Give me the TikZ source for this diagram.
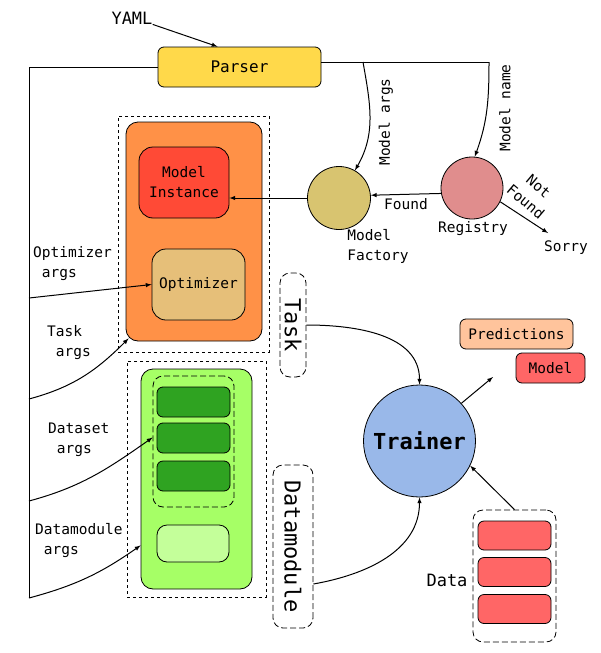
\documentclass[tikz,border=0pt]{standalone}
\usepackage{fontspec}
\setmonofont{DejaVu Sans Mono}
\usetikzlibrary{calc}
\definecolor{parseryellow}{HTML}{FFD94A}
\definecolor{orangebg}{HTML}{FF9147}
\definecolor{instancered}{HTML}{FF4A36}
\definecolor{optimtan}{HTML}{E6BF79}
\definecolor{factorygold}{HTML}{D8C470}
\definecolor{registrypink}{HTML}{E08D8D}
\definecolor{trainerblue}{HTML}{99B8E9}
\definecolor{predpeach}{HTML}{FFC49C}
\definecolor{modelred}{HTML}{FF6666}
\definecolor{greenbg}{HTML}{A6FF66}
\definecolor{darkgreen}{HTML}{2FA321}
\definecolor{lightgreen}{HTML}{C4FF9A}
\tikzstyle{roundbox}=[draw, rounded corners=6, line width=0.8, inner sep=0]
\tikzstyle{dashbox}=[draw, dashed, line width=0.8, inner sep=0]
\tikzstyle{longdashbox}=[draw, dash pattern=on 6pt off 3pt, rounded corners=10, line width=0.8, inner sep=0]
\tikzstyle{plainline}=[line width=1]
\tikzstyle{arrowline}=[-latex, line width=1]
\tikzstyle{txt}=[font=\ttfamily\fontsize{14.5}{20}\selectfont, inner sep=0]
\tikzstyle{argstxt}=[txt, align=left, anchor=west]
\tikzstyle{bigtxt}=[font=\ttfamily\fontsize{22}{24}\selectfont]
\tikzstyle{greenbar}=[roundbox, fill=darkgreen, minimum width=73, minimum height=30]
\tikzstyle{redbar}=[roundbox, fill=modelred, minimum width=73, minimum height=29]
\begin{document}
\begin{tikzpicture}[x=1pt, y=1pt]
  \useasboundingbox (0,0) rectangle (600,-653);
  % parser
  \node[roundbox, fill=parseryellow, minimum width=163, minimum height=40, font=\ttfamily\fontsize{16}{20}\selectfont] (parser) at (239.5,-67) {Parser};
  \node[txt, font=\ttfamily\fontsize{17}{20}\selectfont] (yaml) at (132,-18) {YAML};
  \draw[arrowline] (yaml.south east) -- ($(parser.north)+(-22,0)$);

  % task block
  \node[dashbox, minimum width=151, minimum height=236] (modelarea) at (193.5,-234) {};
  \node[roundbox, rounded corners=12, fill=orangebg, minimum width=136, minimum height=219] (orange) at (194,-231.5) {};
  \node[roundbox, rounded corners=14, fill=instancered, minimum width=90, minimum height=71, txt, align=center] (instance) at (184,-182.5) {Model\\Instance};
  \node[roundbox, rounded corners=14, fill=optimtan, minimum width=93, minimum height=71, txt] (optimizer) at (198.5,-284.5) {Optimizer};

  % datamodule block
  \node[dashbox, minimum width=139, minimum height=236] (dataarea) at (196.5,-479) {};
  \node[roundbox, rounded corners=12, fill=greenbg, minimum width=111, minimum height=220] (green) at (196.5,-479) {};
  \node[longdashbox, fill=greenbg, minimum width=81, minimum height=131] (datasets) at (193.5,-441.5) {};
  \foreach \y [count=\i] in {402,438,476}
    \node[greenbar] (set\i) at (193.5,-\y) {};
  \node[roundbox, rounded corners=10, fill=lightgreen, minimum width=72, minimum height=37] (loader) at (193,-543.5) {};

  % args bus
  \coordinate (oargs) at (29,-298);
  \coordinate (targs) at (29,-399);
  \coordinate (dargs) at (29,-501);
  \coordinate (lbot) at (29,-598);
  \draw[plainline] (parser.west) -| (lbot);
  \draw[arrowline] (oargs) -- (optimizer.west);
  \draw[arrowline] (targs) to[out=15, in=225] ($(orange.south west)+(3,3)$);
  \draw[arrowline] (dargs) to[out=15, in=215] ($(datasets.west)+(0,4)$);
  \draw[arrowline] (lbot) to[out=15, in=215] ($(green.south west)+(0,44)$);
  \node[argstxt] (oargslabel) at (33,-264) {Optimizer\\\phantom{x}args};
  \node[argstxt] (targslabel) at (47,-343) {Task\\\phantom{x}args};
  \node[argstxt] (dargslabel) at (48,-439.5) {Dataset\\\phantom{x}args};
  \node[argstxt] (margslabel) at (35,-540.5) {Datamodule\\\phantom{x}args};

  % factory and registry
  \node[circle, draw, line width=0.8, fill=factorygold, minimum size=63] (factory) at (339,-198) {};
  \node[circle, draw, line width=0.8, fill=registrypink, minimum size=62] (registry) at (472,-188) {};
  \node[txt, align=left] (factorylabel) at (378,-246.5) {Model\\Factory};
  \node[txt] (registrylabel) at (473,-229) {Registry};
  \node[txt] (sorry) at (566,-248) {Sorry};
  \coordinate (rtop) at (489,-62);
  \coordinate (margs) at (363,-62);
  \coordinate (sorryend) at (548,-233);
  \draw[plainline] (parser.east |- rtop) -- (rtop);
  \draw[arrowline] (margs) to[out=-80, in=60] (factory.60);
  \draw[arrowline] (rtop) to[out=-90, in=70] (registry.85);
  \node[txt, rotate=90] (margstxt) at (386,-122) {Model args};
  \node[txt, rotate=90] (mnametxt) at (505,-108) {Model name};
  \draw[arrowline] (registry.190) -- node[txt, below=4pt] (foundlabel) {Found} (factory.5);
  \draw[arrowline] (factory.west) -- (factory.west -| instance.east);
  \draw[arrowline] (registry.-26) -- (sorryend);
  \node[txt, rotate=-40, align=center] (notfoundlabel) at (532,-194) {Not\\Found};

  % trainer
  \node[circle, draw, line width=0.8, fill=trainerblue, minimum size=112, inner sep=0, font=\ttfamily\bfseries\fontsize{22}{24}\selectfont] (trainer) at (419.5,-441) {Trainer};
  \node[longdashbox, bigtxt, minimum width=104, minimum height=26, rotate=-90] (task) at (293,-325) {Task};
  \node[longdashbox, bigtxt, minimum width=163, minimum height=40, rotate=-90] (datamodule) at (293,-546.5) {Datamodule};
  \draw[arrowline] (task.north) to[out=0, in=90] (trainer.north);
  \draw[arrowline] ($(datamodule.north)+(0,-37.5)$) to[out=10, in=-90] (trainer.south);

  % outputs
  \node[roundbox, fill=predpeach, minimum width=113, minimum height=30, txt] (predictions) at (516.5,-334) {Predictions};
  \node[roundbox, fill=modelred, minimum width=69, minimum height=30, txt] (model) at (550.5,-368) {Model};
  \coordinate (outend) at (493,-377);
  \draw[arrowline] (trainer.42) -- (outend);

  % data
  \node[longdashbox, minimum width=83, minimum height=132] (databox) at (514.5,-576) {};
  \foreach \y [count=\i] in {535.5,572,609}
    \node[redbar] (batch\i) at (514.5,-\y) {};
  \node[txt, font=\ttfamily\fontsize{17}{20}\selectfont] (datalabel) at (447,-580) {Data};
  \draw[arrowline] (databox.north) -- (trainer.-26);
\end{tikzpicture}
\end{document}
